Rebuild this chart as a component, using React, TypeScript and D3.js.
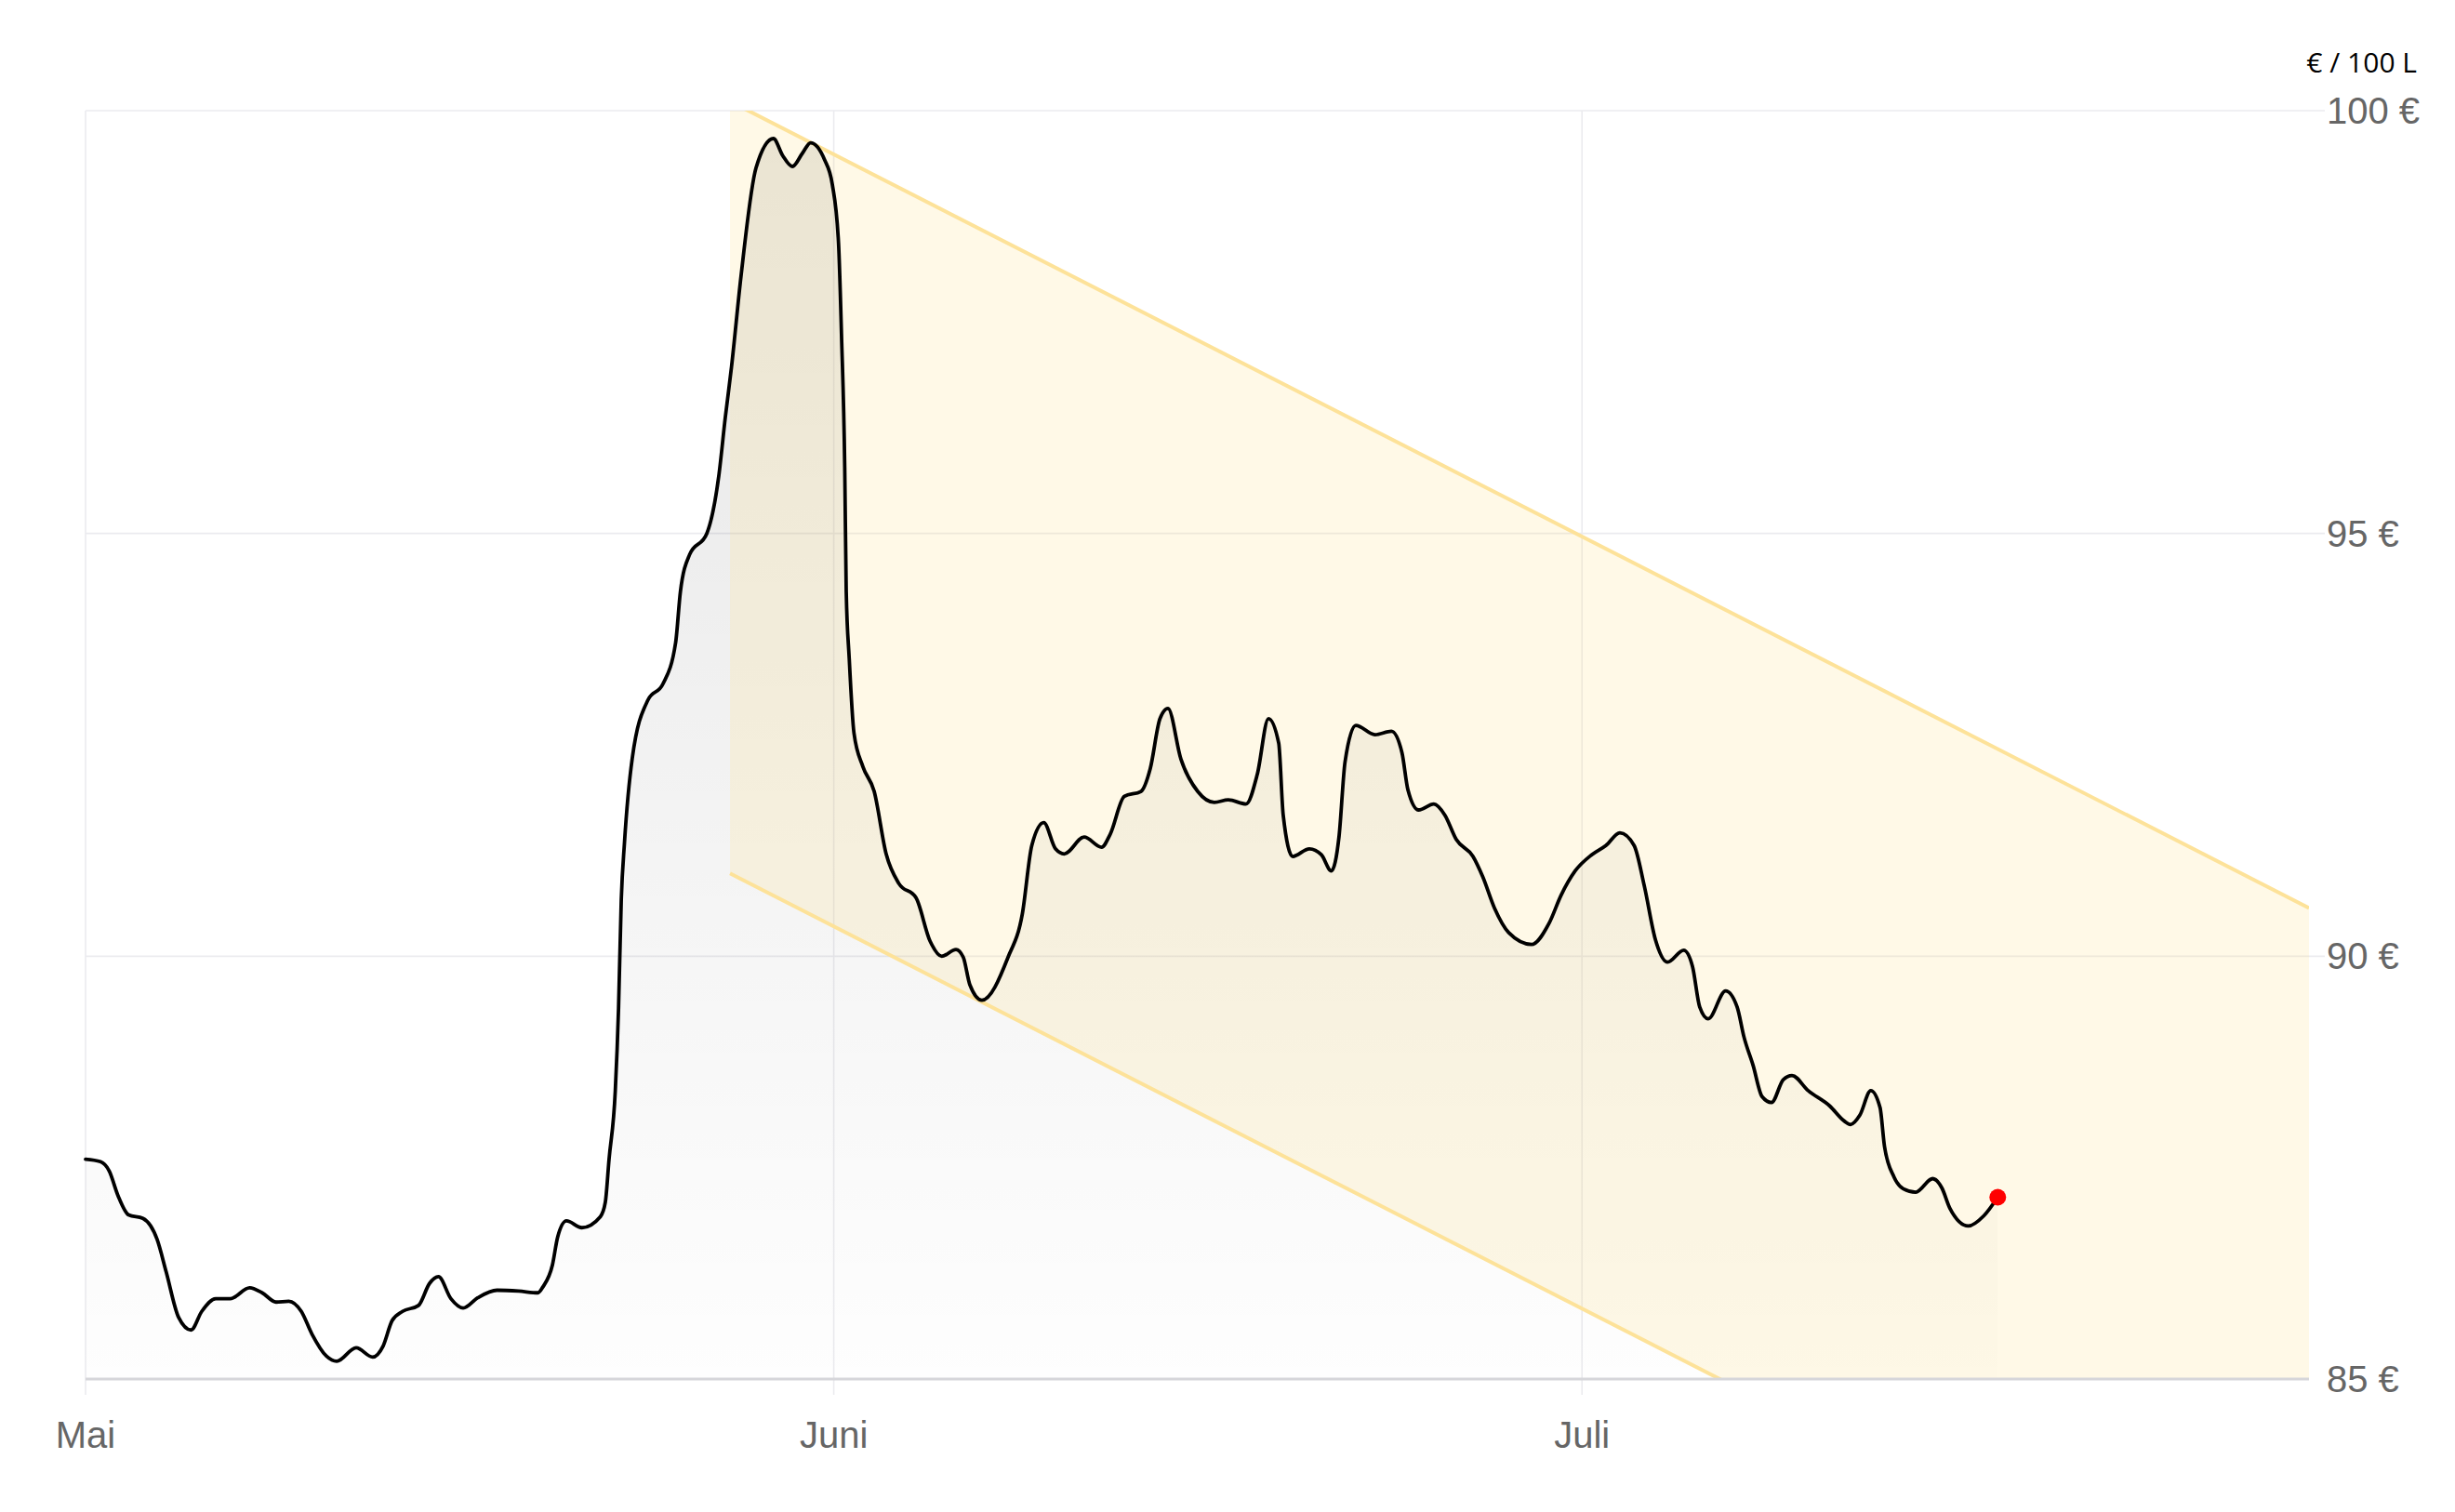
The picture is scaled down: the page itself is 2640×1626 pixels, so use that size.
import React from 'react';
import * as d3 from 'd3';

// x in days since "Mai" (each month = 30 day units on this axis)
const days = [
  0, 0.6, 0.95, 1.3, 1.73, 2.3, 2.87, 3.23, 3.73, 4.23,
  4.66, 5.22, 5.8, 6.58, 7.08, 7.64, 8.15, 8.65, 9.08, 9.66,
  10.07, 10.85, 11.51, 11.93, 12.29, 12.71, 13.35, 13.79, 14.15, 14.65,
  15.14, 15.72, 16.5, 17.36, 18.14, 18.34, 18.72, 18.93, 19.28, 19.9,
  20.64, 20.84, 20.99,
  21.24, 21.37, 21.48, 21.61, 21.92, 22.55, 23.15, 23.66, 23.85, 24.22,
  24.91, 25.39, 25.65, 25.9, 26.28, 26.88, 27.58, 27.95, 28.34, 28.75,
  29.07, 29.63, 29.94, 30.19, 30.31, 30.44, 30.5, 30.62, 30.81, 31.17,
  31.62, 32.1, 32.61, 33.3, 33.86,
  34.33, 34.9, 35.19, 35.46, 35.94, 36.99, 37.56, 37.94, 38.42, 38.89,
  39.24, 40.04, 40.74, 41.08, 41.65, 42.32, 42.69, 43.08, 43.4, 43.92,
  44.59, 45.26, 45.82, 46.53, 46.98, 47.43, 47.84, 48.02, 48.4, 49.07,
  49.55, 49.95, 50.26, 50.5, 50.93, 51.7, 52.36, 52.78, 53.02, 53.45,
  54.06, 54.5, 54.96, 55.63, 56.02, 56.49, 57.06, 57.98, 58.68, 59.16,
  59.73, 60.39, 60.96, 61.52, 62.09, 62.5, 62.95, 63.43, 64.08, 64.43,
  64.72, 65.06, 65.76, 66.22, 66.5, 66.86, 67.22, 67.6, 68.07, 68.42,
  69.07, 69.93, 70.52, 70.77, 71.14, 71.58, 71.95, 72.13, 72.51, 72.88,
  73.38, 74.06, 74.43, 74.75, 75.49, 76.11, 76.67,
];

const prices = [
  87.6, 87.57, 87.46, 87.17, 86.94, 86.9, 86.65, 86.27, 85.73, 85.58,
  85.8, 85.95, 85.95, 86.08, 86.02, 85.91, 85.92, 85.8, 85.53, 85.27,
  85.21, 85.37, 85.26, 85.39, 85.69, 85.8, 85.87, 86.13, 86.21, 85.95,
  85.84, 85.96, 86.05, 86.04, 86.02, 86.09, 86.35, 86.68, 86.87, 86.79,
  86.92, 87.09, 87.6,
  88.41, 89.38, 90.67, 91.35, 92.34, 93.03, 93.22, 93.71, 94.31, 94.75,
  95.0, 95.68, 96.37, 96.97, 98.04, 99.32, 99.67, 99.47, 99.34, 99.5,
  99.62, 99.42, 99.13, 98.44, 97.35, 95.78, 94.31, 93.52, 92.64, 92.24,
  91.95, 91.21, 90.86, 90.69, 90.18,
  90.0, 90.08, 89.99, 89.66, 89.48, 89.99, 90.5, 91.31, 91.58, 91.27,
  91.21, 91.41, 91.29, 91.44, 91.89, 91.95, 92.22, 92.81, 92.93, 92.33,
  91.95, 91.82, 91.85, 91.8, 92.15, 92.81, 92.52, 91.67, 91.18, 91.27,
  91.2, 91.01, 91.42, 92.3, 92.73, 92.62, 92.66, 92.41, 91.97, 91.73,
  91.8, 91.67, 91.38, 91.18, 90.94, 90.57, 90.28, 90.14, 90.39, 90.72,
  91.01, 91.2, 91.31, 91.46, 91.31, 90.83, 90.19, 89.93, 90.07, 89.88,
  89.4, 89.26, 89.59, 89.4, 89.04, 88.71, 88.34, 88.27, 88.54, 88.59,
  88.41, 88.23, 88.05, 88.01, 88.12, 88.41, 88.21, 87.75, 87.39, 87.25,
  87.21, 87.37, 87.26, 87.02, 86.81, 86.93, 87.15,
];

const yTicks = [85, 90, 95, 100];
const monthLabels = ['Mai', 'Juni', 'Juli'];
const monthDays = [0, 30, 60];
const xDomainEnd = 89.15;

// trend channel (start / end)
const channelDays = [25.84, 89.15];
const channelUpper = [100.11, 90.57];
const channelLower = [90.98, 81.44];

const unitLabel = '€ / 100 L';

export default function App() {
  const W = 2640;
  const H = 1626;
  const left = 92;
  const right = 2483;
  const top = 119;
  const bottom = 1483;

  const x = d3.scaleLinear().domain([0, xDomainEnd]).range([left, right]);
  const y = d3.scaleLinear().domain([85, 100]).range([bottom, top]);

  const pts: [number, number][] = days.map((d, i) => [d, prices[i]]);

  const line = d3
    .line<[number, number]>()
    .x((d) => x(d[0]))
    .y((d) => y(d[1]))
    .curve(d3.curveMonotoneX);

  const area = d3
    .area<[number, number]>()
    .x((d) => x(d[0]))
    .y0(bottom)
    .y1((d) => y(d[1]))
    .curve(d3.curveMonotoneX);

  const bandPts: [number, number][] = [
    [x(channelDays[0]), y(channelUpper[0])],
    [x(channelDays[1]), y(channelUpper[1])],
    [x(channelDays[1]), y(channelLower[1])],
    [x(channelDays[0]), y(channelLower[0])],
  ];
  const bandPath = 'M' + bandPts.map((p) => p.join(',')).join('L') + 'Z';

  const last = pts[pts.length - 1];

  const labelFont = '"Liberation Sans", Arial, sans-serif';

  return (
    <svg
      width={W}
      height={H}
      style={{ position: 'absolute', left: 0, top: 0, display: 'block', background: '#fff' }}
    >
      <defs>
        <clipPath id="plotClip">
          <rect x={left} y={top} width={right - left} height={bottom - top} />
        </clipPath>
        <linearGradient id="areaGrad" gradientUnits="userSpaceOnUse" x1={0} y1={top} x2={0} y2={bottom}>
          <stop offset="0%" stopColor="#000" stopOpacity={0.1} />
          <stop offset="100%" stopColor="#000" stopOpacity={0.005} />
        </linearGradient>
      </defs>

      {/* grid */}
      {yTicks.filter((t) => t !== 85).map((t) => (
        <line key={'g' + t} x1={left} x2={2500} y1={y(t)} y2={y(t)} stroke="#ebebef" strokeWidth={1.6} />
      ))}
      {monthDays.map((d, i) => (
        <line key={'v' + i} x1={x(d)} x2={x(d)} y1={top} y2={1500} stroke="#ebebef" strokeWidth={1.6} />
      ))}

      <g clipPath="url(#plotClip)">
        <path d={area(pts) || ''} fill="url(#areaGrad)" />
        <path d={bandPath} fill="rgb(253,224,120)" fillOpacity={0.18} />
        <line x1={bandPts[0][0]} y1={bandPts[0][1]} x2={bandPts[1][0]} y2={bandPts[1][1]} stroke="#fde299" strokeWidth={4} />
        <line x1={bandPts[3][0]} y1={bandPts[3][1]} x2={bandPts[2][0]} y2={bandPts[2][1]} stroke="#fde299" strokeWidth={4} />
      </g>

      {/* baseline */}
      <line x1={left} x2={right} y1={y(85)} y2={y(85)} stroke="#d6d6da" strokeWidth={3} />

      <path d={line(pts) || ''} fill="none" stroke="#000" strokeWidth={3.8} strokeLinejoin="round" strokeLinecap="round" />
      <circle cx={x(last[0])} cy={y(last[1])} r={9} fill="#ff0000" />

      {/* y labels */}
      {yTicks.map((t) => (
        <text key={'yl' + t} x={2502} y={y(t) + 14} fontFamily={labelFont} fontSize={40} fill="#666">
          {t} €
        </text>
      ))}

      {/* x labels */}
      {monthDays.map((d, i) => (
        <text key={'xl' + i} x={x(d)} y={1557} textAnchor="middle" fontFamily={labelFont} fontSize={40} fill="#666">
          {monthLabels[i]}
        </text>
      ))}

      <text x={2599} y={78} textAnchor="end" fontFamily='"Open Sans", "Noto Sans", sans-serif' fontSize={30} fill="#000" style={{ whiteSpace: 'pre' }}>
        {unitLabel}
      </text>
    </svg>
  );
}
